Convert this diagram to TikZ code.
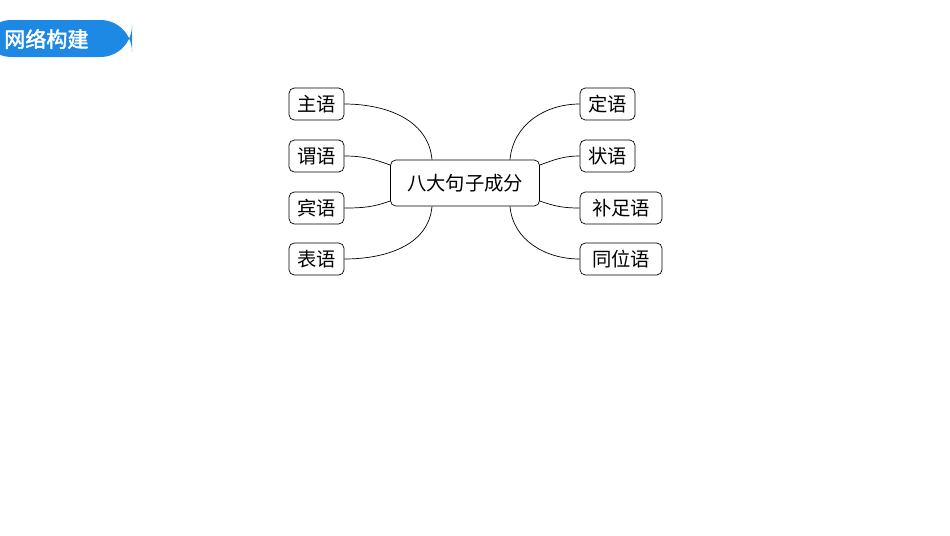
\documentclass[tikz,border=0pt]{standalone}
\usepackage{fontspec}
\newfontfamily\cjk[AutoFakeBold=2]{Noto Sans CJK SC}
\tikzset{
  part/.style={draw, rounded corners=3pt, inner sep=2pt, minimum height=0.64cm, font=\cjk\fontsize{11}{13}\selectfont},
  link/.style={thin}
}
\definecolor{headblue}{HTML}{1E88E5}
\begin{document}
\begin{tikzpicture}[x=0.02cm, y=-0.02cm]
  \useasboundingbox (0,0) rectangle (950,535);
  \fill[headblue, rounded corners=18pt] (-20,20) rectangle (132,57);
  \node[text=white, font=\cjk\bfseries\fontsize{12}{14}\selectfont, anchor=west] (head) at (-2,39) {网络构建};
  \node[part, minimum width=2.98cm, minimum height=0.92cm] (core) at (465,183) {八大句子成分};
  \node[part, minimum width=1.1cm] (zhu) at (316.5,104) {主语};
  \node[part, minimum width=1.1cm] (wei) at (316.5,156) {谓语};
  \node[part, minimum width=1.1cm] (bin) at (316.5,208) {宾语};
  \node[part, minimum width=1.1cm] (biao) at (316.5,259) {表语};
  \node[part, minimum width=1.1cm] (ding) at (607.5,104) {定语};
  \node[part, minimum width=1.1cm] (zhuang) at (607.5,156) {状语};
  \node[part, minimum width=1.64cm] (buzu) at (621,208) {补足语};
  \node[part, minimum width=1.64cm] (tong) at (621,259) {同位语};
  \draw[link] (zhu.east) to[out=0, in=95] ([xshift=-0.66cm]core.north);
  \draw[link] (wei.east) to[out=0, in=160] ([yshift=0.36cm]core.west);
  \draw[link] (bin.east) to[out=0, in=200] ([yshift=-0.36cm]core.west);
  \draw[link] (biao.east) to[out=0, in=-95] ([xshift=-0.66cm]core.south);
  \draw[link] (ding.west) to[out=180, in=85] ([xshift=0.9cm]core.north);
  \draw[link] (zhuang.west) to[out=180, in=20] ([yshift=0.36cm]core.east);
  \draw[link] (buzu.west) to[out=180, in=-20] ([yshift=-0.36cm]core.east);
  \draw[link] (tong.west) to[out=180, in=-85] ([xshift=0.9cm]core.south);
\end{tikzpicture}
\end{document}
